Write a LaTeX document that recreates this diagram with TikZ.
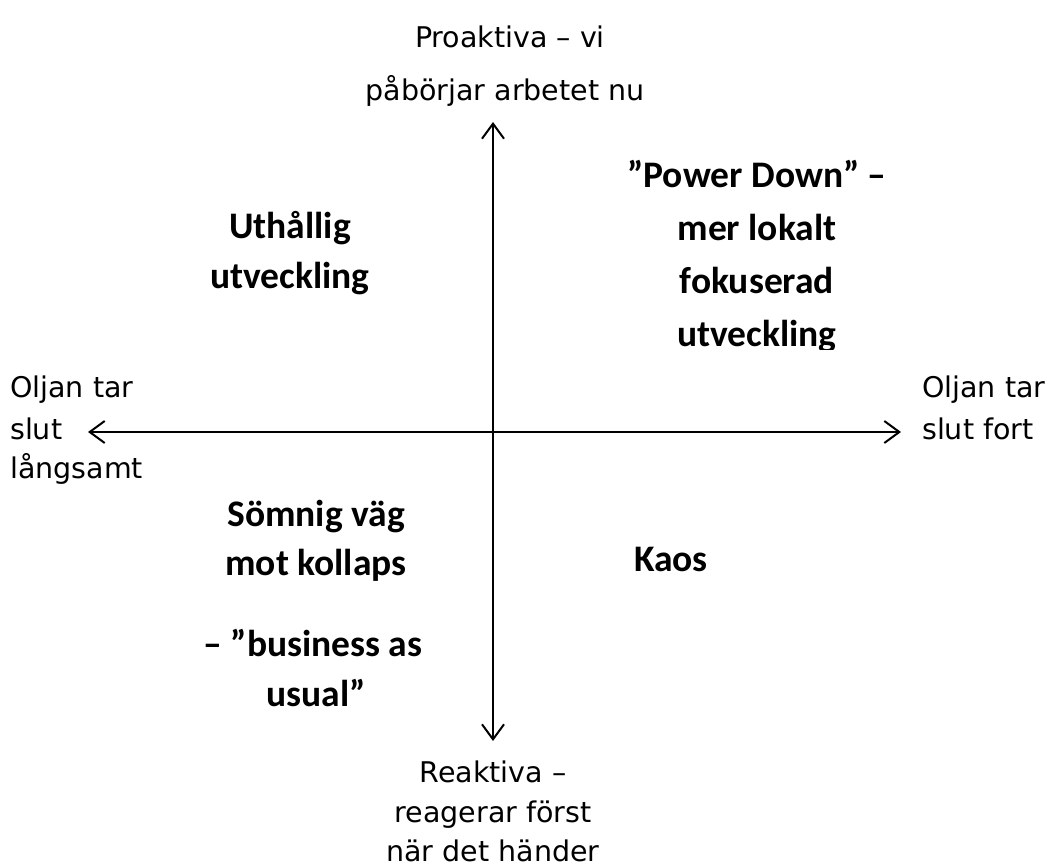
\documentclass[tikz,border=0pt]{standalone}
\usepackage{fontspec}
\setmainfont{DejaVu Sans}
\newfontfamily\boldfont{Carlito}
\usetikzlibrary{arrows.meta}
\tikzset{
  lbl/.style={anchor=base, inner sep=0pt, font=\fontsize{28.5}{34}\selectfont},
  lbll/.style={anchor=base west, inner sep=0pt, font=\fontsize{28.5}{34}\selectfont},
  big/.style={anchor=base, inner sep=0pt, font=\boldfont\bfseries\fontsize{37.5}{44}\selectfont},
  axis/.style={line width=2pt, {Straight Barb[length=15pt,width=22pt,line width=2pt]}-{Straight Barb[length=15pt,width=22pt,line width=2pt]}}
}
\begin{document}
\begin{tikzpicture}[x=1pt,y=-1pt]
\useasboundingbox (0,0) rectangle (1054,867);
% axes
\coordinate (top) at (493,122);
\coordinate (bot) at (493,741);
\coordinate (lft) at (88,432);
\coordinate (rgt) at (901,432);
\draw[axis] (top) -- (bot);
\draw[axis] (lft) -- (rgt);
% top
\node[lbl] (p1) at (510,48) {Proaktiva – vi};
\node[lbl] (p2) at (505,100) {påbörjar arbetet nu};
% left
\node[lbll] (l1) at (10,397) {Oljan tar};
\node[lbll] (l2) at (10,439) {slut};
\node[lbll] (l3) at (10,478) {långsamt};
% right
\node[lbll] (r1) at (922,397) {Oljan tar};
\node[lbll] (r2) at (922,439) {slut fort};
% bottom
\node[lbl] (b1) at (493,782) {Reaktiva –};
\node[lbl] (b2) at (493,822) {reagerar först};
\node[lbl] (b3) at (493,861) {när det händer};
% quadrants
\node[big] (u1) at (290,238) {Uthållig};
\node[big] (u2) at (290,288) {utveckling};
\begin{scope}
\clip (580,130) rectangle (940,349);
\node[big] (pd1) at (757,187) {”Power Down” –};
\node[big] (pd2) at (757,240) {mer lokalt};
\node[big] (pd3) at (757,293) {fokuserad};
\node[big] (pd4) at (757,346) {utveckling};
\end{scope}
\node[big] (s1) at (316,526) {Sömnig väg};
\node[big] (s2) at (316,575) {mot kollaps};
\node[big] (s3) at (313,656) {– ”business as};
\node[big] (s4) at (316,706) {usual”};
\node[big] (k) at (671,571) {Kaos};
\end{tikzpicture}
\end{document}
